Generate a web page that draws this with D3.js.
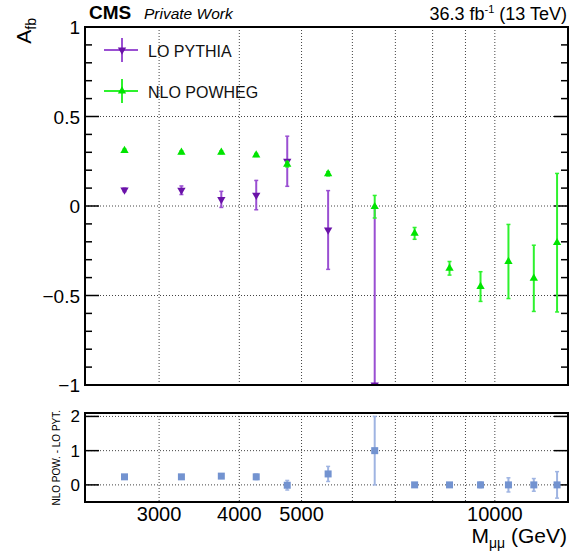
<!DOCTYPE html>
<html>
<head>
<meta charset="utf-8">
<script src="https://cdn.jsdelivr.net/npm/d3@7"></script>
<style>
  body { margin: 0; background: #fff; }
  svg { font-family: "Liberation Sans", Arial, Helvetica, sans-serif; }
</style>
</head>
<body>
<div id="chart"></div>
<script>
// bin centres in GeV
const massBins = [2650, 3250, 3750, 4250, 4750, 5500, 6500, 7500, 8500, 9500, 10500, 11500, 12500];

const loPythia    = [0.09, 0.088, 0.037, 0.061, 0.25, -0.134, -1.0];
const loPythiaErr = [0.01, 0.024, 0.045, 0.082, 0.14, 0.22, 1.0];

const nloPowheg    = [0.31, 0.30, 0.30, 0.285, 0.233, 0.18, -0.004, -0.153, -0.348, -0.45, -0.31, -0.404, -0.205];
const nloPowhegErr = [0.008, 0.008, 0.008, 0.008, 0.015, 0.012, 0.063, 0.033, 0.038, 0.083, 0.207, 0.185, 0.387];

const diffVals = [0.235, 0.235, 0.256, 0.235, -0.01, 0.32, 1.0, 0, 0, 0, 0, 0, 0];
const diffErr  = [0.02, 0.03, 0.05, 0.08, 0.14, 0.22, 1.0, 0.033, 0.038, 0.083, 0.207, 0.185, 0.387];

const xGrid = [3000, 4000, 5000, 6000, 7000, 8000, 9000, 10000];
const xLabels = [3000, 4000, 5000, 10000];
const yUpperLabels = [1, 0.5, 0, -0.5, -1];
const yLowerLabels = [2, 1, 0];

const width = 573;
const height = 553;
const left = 85, right = 568;
const top1 = 27, bottom1 = 385;
const top2 = 413, bottom2 = 502;

const svg = d3.select("#chart")
    .append("svg")
    .attr("width", width)
    .attr("height", height);

const x = d3.scaleLog().domain([2300, 13000]).range([left, right]);
const y1 = d3.scaleLinear().domain([-1, 1]).range([bottom1, top1]);
const y2 = d3.scaleLinear().domain([-0.5, 2.1]).range([bottom2, top2]);

const fmt = v => String(v).replace("-", "\u2212");

const purpleLine = "#9a4fd2", purpleMark = "#6a12a8";
const greenLine = "#2ef22e", greenMark = "#00e400";
const blueLine = "#9fb4e2", blueMark = "#7393d0";

// clip paths
const defs = svg.append("defs");
defs.append("clipPath").attr("id", "clipUp")
    .append("rect").attr("x", left).attr("y", top1).attr("width", right - left).attr("height", bottom1 - top1);
defs.append("clipPath").attr("id", "clipDn")
    .append("rect").attr("x", left).attr("y", top2).attr("width", right - left).attr("height", bottom2 - top2);

function drawGrid(g, yScale, yTicks, yTop, yBot) {
    g.selectAll(".vgrid")
        .data(xGrid)
        .enter()
        .append("line")
        .attr("x1", d => x(d)).attr("x2", d => x(d))
        .attr("y1", yTop).attr("y2", yBot)
        .attr("stroke", "#444").attr("stroke-width", 1)
        .attr("stroke-dasharray", "1,2");
    g.selectAll(".hgrid")
        .data(yTicks)
        .enter()
        .append("line")
        .attr("x1", left).attr("x2", right)
        .attr("y1", d => yScale(d)).attr("y2", d => yScale(d))
        .attr("stroke", "#444").attr("stroke-width", 1)
        .attr("stroke-dasharray", "1,2");
}

// ---- upper pad ----
const up = svg.append("g");
drawGrid(up, y1, [0.5, 0, -0.5], top1, bottom1);

// y ticks (both sides)
const minorUp = d3.range(-10, 11).map(i => i / 10);
[left, right].forEach((xx, side) => {
    const dir = side === 0 ? 1 : -1;
    up.selectAll(".tick" + side)
        .data(minorUp)
        .enter()
        .append("line")
        .attr("x1", xx)
        .attr("x2", d => xx + dir * (Math.abs(d * 2 - Math.round(d * 2)) < 1e-6 ? 14 : 7))
        .attr("y1", d => y1(d)).attr("y2", d => y1(d))
        .attr("stroke", "#000").attr("stroke-width", 1.5);
});

up.selectAll(".ylab")
    .data(yUpperLabels)
    .enter()
    .append("text")
    .attr("x", left - 5)
    .attr("y", d => y1(d) + 7)
    .attr("text-anchor", "end")
    .attr("font-size", 19)
    .text(d => fmt(d));

function drawErrors(g, vals, errs, yScale, color) {
    const pts = vals.map((v, i) => ({ m: massBins[i], v: v, e: errs[i] }));
    g.selectAll(null)
        .data(pts)
        .enter()
        .append("line")
        .attr("x1", d => x(d.m)).attr("x2", d => x(d.m))
        .attr("y1", d => yScale(d.v - d.e)).attr("y2", d => yScale(d.v + d.e))
        .attr("stroke", color).attr("stroke-width", 2);
    [-1, 1].forEach(s => {
        g.selectAll(null)
            .data(pts)
            .enter()
            .append("line")
            .attr("x1", d => x(d.m) - 2).attr("x2", d => x(d.m) + 2)
            .attr("y1", d => yScale(d.v + s * d.e)).attr("y2", d => yScale(d.v + s * d.e))
            .attr("stroke", color).attr("stroke-width", 1.5);
    });
    return pts;
}

const upData = up.append("g").attr("clip-path", "url(#clipUp)");
const triangle = d3.symbol().type(d3.symbolTriangle).size(30);

const loPts = drawErrors(upData, loPythia, loPythiaErr, y1, purpleLine);
upData.selectAll(".lo")
    .data(loPts)
    .enter()
    .append("path")
    .attr("d", triangle)
    .attr("transform", d => `translate(${x(d.m)},${y1(d.v)}) rotate(180)`)
    .attr("fill", purpleMark);

const nloPts = drawErrors(upData, nloPowheg, nloPowhegErr, y1, greenLine);
upData.selectAll(".nlo")
    .data(nloPts)
    .enter()
    .append("path")
    .attr("d", triangle)
    .attr("transform", d => `translate(${x(d.m)},${y1(d.v)})`)
    .attr("fill", greenMark);

up.append("rect")
    .attr("x", left).attr("y", top1)
    .attr("width", right - left).attr("height", bottom1 - top1)
    .attr("fill", "none").attr("stroke", "#000").attr("stroke-width", 2);

// legend
const legend = [
    { label: "LO PYTHIA", line: purpleLine, mark: purpleMark, rot: 180, y: 50 },
    { label: "NLO POWHEG", line: greenLine, mark: greenMark, rot: 0, y: 91 }
];
const leg = svg.append("g");
legend.forEach(d => {
    leg.append("line").attr("x1", 104).attr("x2", 138).attr("y1", d.y).attr("y2", d.y)
        .attr("stroke", d.line).attr("stroke-width", 2);
    leg.append("line").attr("x1", 122).attr("x2", 122).attr("y1", d.y - 12).attr("y2", d.y + 12)
        .attr("stroke", d.line).attr("stroke-width", 2);
    leg.append("path").attr("d", triangle)
        .attr("transform", `translate(122,${d.y}) rotate(${d.rot})`)
        .attr("fill", d.mark);
    leg.append("text").attr("x", 148).attr("y", d.y + 7)
        .attr("font-size", 16).attr("fill", "#111").text(d.label);
});

// header
svg.append("text").attr("x", 89).attr("y", 19)
    .attr("font-size", 19).attr("font-weight", "bold").text("CMS");
svg.append("text").attr("x", 144).attr("y", 19)
    .attr("font-size", 15.5).attr("font-style", "italic").text("Private Work");
const lumi = svg.append("text").attr("x", 567).attr("y", 20)
    .attr("text-anchor", "end").attr("font-size", 18);
lumi.append("tspan").text("36.3 fb");
lumi.append("tspan").attr("dy", -7).attr("font-size", 11).text("-1");
lumi.append("tspan").attr("dy", 7).text(" (13 TeV)");

// y title
const yt = svg.append("text")
    .attr("transform", "translate(31,18) rotate(-90)")
    .attr("text-anchor", "end")
    .attr("font-size", 21);
yt.append("tspan").text("A");
yt.append("tspan").attr("dy", 5).attr("font-size", 14).text("fb");

// ---- lower pad ----
const dn = svg.append("g");
drawGrid(dn, y2, [0, 1, 2], top2, bottom2);

[left, right].forEach((xx, side) => {
    const dir = side === 0 ? 1 : -1;
    dn.selectAll(".tick" + side)
        .data(yLowerLabels)
        .enter()
        .append("line")
        .attr("x1", xx).attr("x2", xx + dir * 14)
        .attr("y1", d => y2(d)).attr("y2", d => y2(d))
        .attr("stroke", "#000").attr("stroke-width", 1.5);
});

dn.selectAll(".ylab2")
    .data(yLowerLabels)
    .enter()
    .append("text")
    .attr("x", left - 5)
    .attr("y", d => y2(d) + 6)
    .attr("text-anchor", "end")
    .attr("font-size", 17)
    .text(d => fmt(d));

const dnData = dn.append("g").attr("clip-path", "url(#clipDn)");
const diffPts = drawErrors(dnData, diffVals, diffErr, y2, blueLine);
dnData.selectAll(".diff")
    .data(diffPts)
    .enter()
    .append("rect")
    .attr("x", d => x(d.m) - 3.5).attr("y", d => y2(d.v) - 3.5)
    .attr("width", 7).attr("height", 7)
    .attr("fill", blueMark);

dn.append("rect")
    .attr("x", left).attr("y", top2)
    .attr("width", right - left).attr("height", bottom2 - top2)
    .attr("fill", "none").attr("stroke", "#000").attr("stroke-width", 2);

dn.append("text")
    .attr("transform", "translate(60,410) rotate(-90)")
    .attr("text-anchor", "end")
    .attr("font-size", 10)
    .text("NLO POW. - LO PYT.");

// x labels
dn.selectAll(".xlab")
    .data(xLabels)
    .enter()
    .append("text")
    .attr("x", d => x(d))
    .attr("y", 521)
    .attr("text-anchor", "middle")
    .attr("font-size", 20)
    .text(d => d);

const xt = svg.append("text").attr("x", 567).attr("y", 543)
    .attr("text-anchor", "end").attr("font-size", 21);
xt.append("tspan").text("M");
xt.append("tspan").attr("dy", 5).attr("font-size", 14).text("\u03bc\u03bc");
xt.append("tspan").attr("dy", -5).text(" (GeV)");
</script>
</body>
</html>
